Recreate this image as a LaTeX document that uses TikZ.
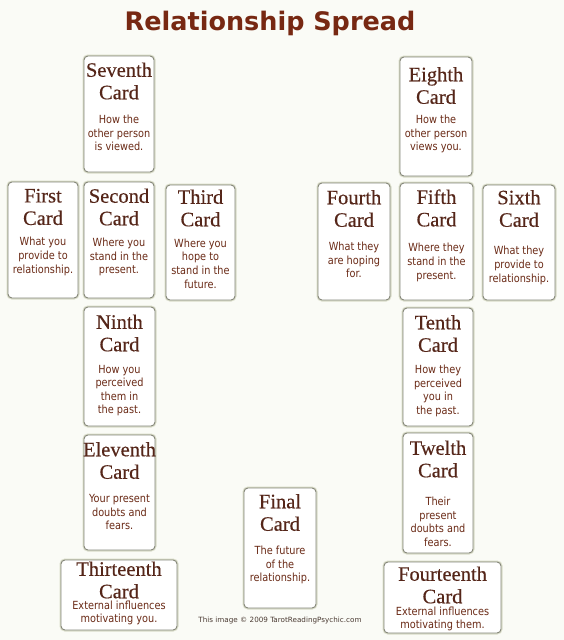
\documentclass[tikz,border=0pt]{standalone}
\usepackage{fontspec}
\setmainfont{Liberation Serif}
\newfontfamily\cardfont[FakeBold=0.35]{Liberation Serif}
\newfontfamily\descfont[FakeStretch=0.87]{DejaVu Sans}
\newfontfamily\footfont{DejaVu Sans}
\newfontfamily\headfont{DejaVu Sans}
\definecolor{bgcol}{HTML}{FAFBF6}
\definecolor{headcol}{HTML}{772812}
\definecolor{titlecol}{HTML}{552619}
\definecolor{desccol}{HTML}{6A2A16}
\definecolor{edgecol}{HTML}{85877A}
\definecolor{glowcol}{HTML}{D9DCC8}
\definecolor{footcol}{HTML}{4A3A32}
\tikzset{
  cardbox/.style={draw=edgecol, line width=0.9pt, rounded corners=4pt, fill=white,
    inner sep=0pt, preaction={draw=glowcol, line width=3pt}},
  cardtitle/.style={align=center, inner sep=0pt, text=titlecol,
    font=\cardfont\fontsize{20.5}{22.5}\selectfont},
  carddesc/.style={align=center, inner sep=0pt, text=desccol,
    font=\descfont\fontsize{11.2}{13.6}\selectfont},
}
\newcommand\tarot[9]{%
  \node[cardbox, minimum width=#4pt, minimum height=#5pt] (#1) at (#2,#3) {};
  \node[cardtitle] (#1t) at (#2,#7) {#6};
  \node[carddesc] (#1d) at (#2,#9) {#8};
}
\begin{document}
\begin{tikzpicture}[x=1pt, y=-1pt]
\fill[bgcol] (0,0) rectangle (564,640);
\useasboundingbox (0,0) rectangle (564,640);
\node[text=headcol, font=\headfont\bfseries\fontsize{25.5}{28}\selectfont, inner sep=0pt] (title) at (270,23) {Relationship Spread};
\tarot{c7}{119}{114}{70}{116}{Seventh\\Card}{81}{How the\\other person\\is viewed.}{133}
\tarot{c1}{43}{240}{70}{116}{First\\Card}{207}{What you\\provide to\\relationship.}{256.5}
\tarot{c2}{119}{240}{70}{116}{Second\\Card}{207}{Where you\\stand in the\\present.}{257}
\tarot{c3}{200.5}{242.5}{69}{115}{Third\\Card}{208}{Where you\\hope to\\stand in the\\future.}{263.5}
\tarot{c8}{436}{116.5}{72}{119}{Eighth\\Card}{85.5}{How the\\other person\\views you.}{134}
\tarot{c4}{354}{241.5}{72}{117}{Fourth\\Card}{208.5}{What they\\are hoping\\for.}{260}
\tarot{c5}{436.5}{241.5}{73}{117}{Fifth\\Card}{208}{Where they\\stand in the\\present.}{262.5}
\tarot{c6}{519}{242.5}{72}{115}{Sixth\\Card}{208.5}{What they\\provide to\\relationship.}{265.5}
\tarot{c9}{119.5}{366.5}{71}{119}{Ninth\\Card}{333}{How you\\perceived\\them in\\the past.}{390.5}
\tarot{c10}{438}{367}{70}{118}{Tenth\\Card}{333.5}{How they\\perceived\\you in\\the past.}{391}
\tarot{c11}{119.5}{492.5}{71}{115}{Eleventh\\Card}{460.5}{Your present\\doubts and\\fears.}{512}
\tarot{c12}{438}{493}{70}{120}{Twelth\\Card}{459}{Their\\present\\doubts and\\fears.}{522}
\tarot{final}{280}{548}{72}{120}{Final\\Card}{512.5}{The future\\of the\\relationship.}{565}
\tarot{c13}{119}{595}{116}{70}{Thirteenth\\Card}{580}{External influences\\motivating you.}{613}
\tarot{c14}{442.5}{597.5}{117}{71}{Fourteenth\\Card}{585}{External influences\\motivating them.}{619}
\node[text=footcol, font=\footfont\fontsize{7.2}{9}\selectfont, inner sep=0pt] (footer) at (280,621) {This image \textcopyright\ 2009 TarotReadingPsychic.com};
\end{tikzpicture}
\end{document}
